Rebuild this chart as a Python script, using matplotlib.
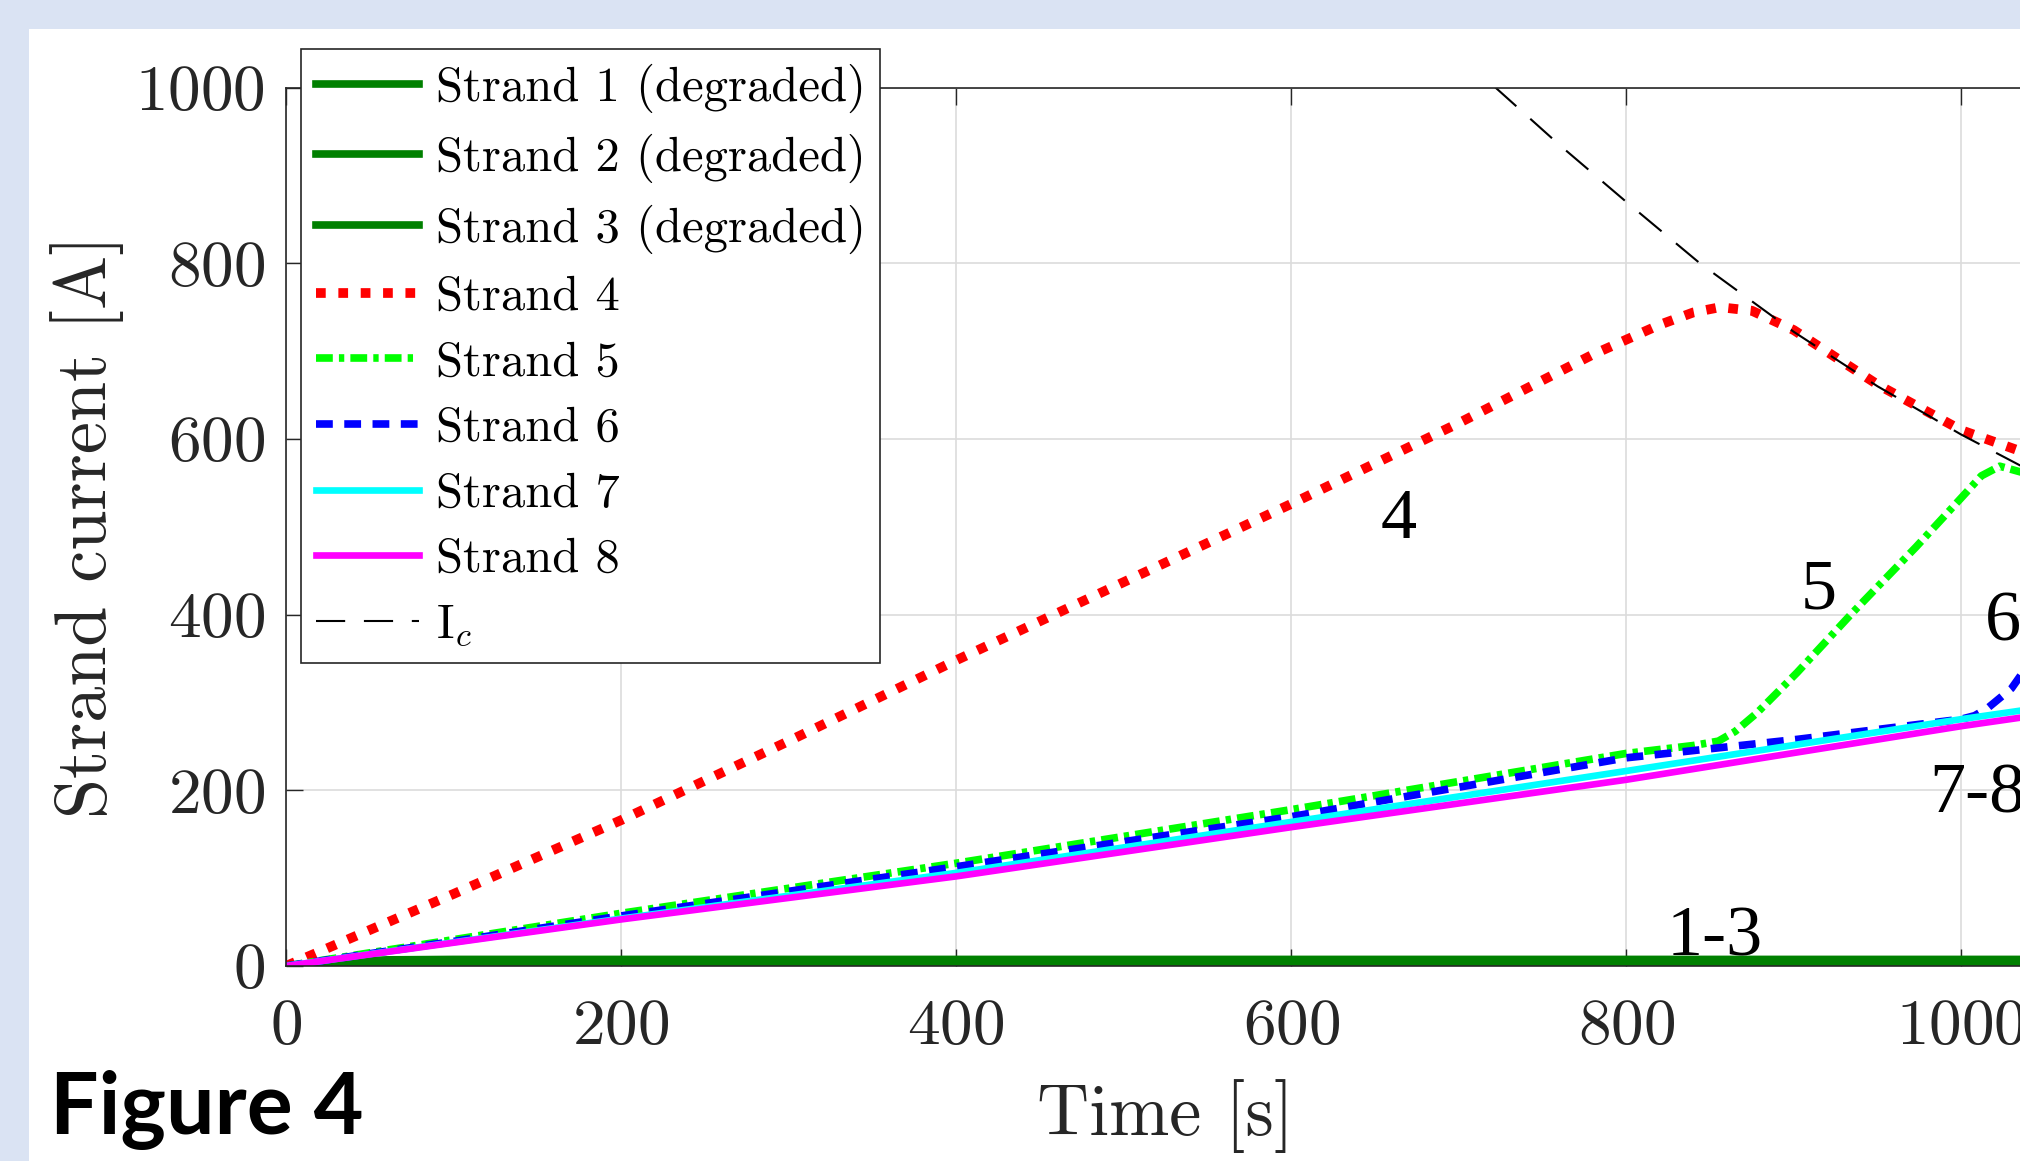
import matplotlib
matplotlib.use("Agg")
import matplotlib.pyplot as plt
from matplotlib.patches import Rectangle

plt.rcParams["font.family"] = "cmr10"
plt.rcParams["mathtext.fontset"] = "cm"
plt.rcParams["axes.formatter.use_mathtext"] = True

# strands 1-3 (degraded) stay close to zero
t_deg = [0, 30, 60, 100, 1040]
strand1 = [0, 2, 3, 3, 3]
strand2 = [0, 3, 5, 5.5, 5.5]
strand3 = [0, 4, 7, 7.5, 7.5]

t4 = [0, 100, 200, 300, 400, 500, 600, 700, 780, 820, 840, 856, 875, 900, 950, 1000, 1040]
strand4 = [0, 82, 166, 256, 348, 437, 526, 618, 696, 730, 744, 750, 746, 724, 662, 610, 583]

t5 = [0, 100, 200, 400, 600, 800, 840, 855, 865, 878, 902, 935, 973, 1001, 1012, 1023, 1040]
strand5 = [0, 30, 60, 117, 178, 242, 251, 256, 267, 288, 334, 402, 477, 535, 558, 569, 560]

t6 = [0, 100, 200, 400, 600, 800, 902, 1000, 1008, 1016, 1030, 1040]
strand6 = [0, 28, 57, 113, 170, 237, 258, 281, 285, 294, 316, 343]

t78 = [0, 200, 400, 600, 800, 1000, 1040]
strand7 = [0, 54, 106, 164, 222, 281, 292]
strand8 = [0, 53, 102, 158, 212, 273, 284]

# critical current
t_ic = [700, 722, 760, 800, 844, 900, 950, 1000, 1040]
i_c = [1037, 1000, 935, 870, 800, 722, 660, 605, 565]

x_ticks = [0, 200, 400, 600, 800, 1000]
y_ticks = [0, 200, 400, 600, 800, 1000]

# curve tags: text, x, baseline y, alignment
tags = [("4", 664, 487, "center"), ("5", 915, 407, "center"), ("6", 1014, 371, "left"),
        ("7-8", 981, 175, "left"), ("1-3", 853, 12, "center")]

W, H = 2020, 1161
fig = plt.figure(figsize=(W / 100, H / 100), dpi=100, facecolor="#dae3f3")
fig.add_artist(Rectangle((29 / W, 0), 1, 1 - 29 / H, transform=fig.transFigure,
                         facecolor="white", edgecolor="none", zorder=-1))

ax = fig.add_axes([286 / W, 195 / H, 1759 / W, 878.4 / H])

dark = "#262626"
ax.plot(t_deg, strand1, color="#008000", lw=5.5, label="Strand 1 (degraded)")
ax.plot(t_deg, strand2, color="#008000", lw=5.5, label="Strand 2 (degraded)")
ax.plot(t_deg, strand3, color="#008000", lw=5.5, label="Strand 3 (degraded)")
ax.plot(t4, strand4, color="#ff0000", lw=7, ls=(0, (1, 1.3)), label="Strand 4")
ax.plot(t5, strand5, color="#00ff00", lw=5.5, ls=(0, (2.2, 0.8, 0.7, 0.8)), label="Strand 5")
ax.plot(t6, strand6, color="#0000ff", lw=5.5, ls=(0, (2.2, 1.5)), label="Strand 6")
ax.plot(t78, strand7, color="#00ffff", lw=4.8, label="Strand 7")
ax.plot(t78, strand8, color="#ff00ff", lw=4.8, label="Strand 8")
ax.plot(t_ic, i_c, color="black", lw=1.5, ls=(0, (14, 9)), label="I$_c$")

for txt, x, y, ha in tags:
    ax.text(x, y, txt, family="Liberation Serif", fontsize=52, ha=ha, va="baseline")

ax.set_xlim(0, 1050)
ax.set_ylim(0, 1000)
ax.set_xticks(x_ticks)
ax.set_yticks(y_ticks)
ax.set_axisbelow(True)
ax.grid(True, color="#dcdcdc", lw=1.2)
ax.tick_params(direction="in", length=12, width=1.0, top=True, right=True,
               color=dark, labelcolor=dark, labelsize=47)
ax.tick_params(axis="x", pad=24)
ax.tick_params(axis="y", pad=15)
for sp in ax.spines.values():
    sp.set_linewidth(1.2)
    sp.set_color(dark)

ax.set_xlabel("Time [s]", fontsize=52, labelpad=16, color=dark)
ax.set_ylabel("Strand current [A]", fontsize=52, labelpad=8, color=dark)

leg = ax.legend(loc="upper left", bbox_to_anchor=(301 / W, 1 - 49 / H),
                bbox_transform=fig.transFigure, borderaxespad=0, fontsize=35,
                handlelength=2.12, handletextpad=0.35, borderpad=0.3,
                labelspacing=0.44, fancybox=False, framealpha=1, edgecolor=dark)
leg.get_frame().set_linewidth(1.2)

fig.text(50 / W, 27 / H, "Figure 4", family="Lato", weight="bold", fontsize=62,
         ha="left", va="baseline", color="black")

fig.savefig("out.png", dpi=100, facecolor=fig.get_facecolor())
